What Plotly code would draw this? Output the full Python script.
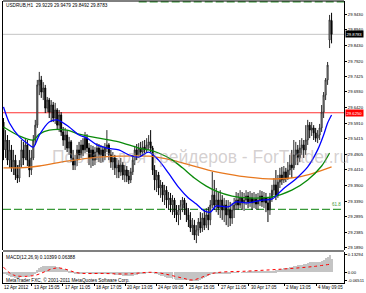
import plotly.graph_objects as go

# ---------------- data ----------------
bar_index = list(range(166))

open_ = [29.595, 29.505, 29.537, 29.472, 29.505, 29.447, 29.472, 29.424, 29.414, 29.456,
         29.505, 29.479, 29.521, 29.472, 29.440, 29.479, 29.537, 29.585, 29.715, 29.731,
         29.692, 29.705, 29.640, 29.666, 29.627, 29.650, 29.608, 29.634, 29.585, 29.618,
         29.563, 29.537, 29.553, 29.511, 29.531, 29.479, 29.456, 29.472, 29.505, 29.489,
         29.521, 29.505, 29.543, 29.511, 29.479, 29.505, 29.472, 29.498, 29.511, 29.489,
         29.505, 29.485, 29.511, 29.521, 29.489, 29.466, 29.479, 29.447, 29.456, 29.434,
         29.456, 29.424, 29.440, 29.421, 29.408, 29.434, 29.472, 29.505, 29.489, 29.511,
         29.498, 29.514, 29.505, 29.521, 29.531, 29.511, 29.440, 29.408, 29.424, 29.382,
         29.392, 29.359, 29.375, 29.343, 29.350, 29.327, 29.343, 29.304, 29.295, 29.311,
         29.327, 29.343, 29.317, 29.295, 29.279, 29.253, 29.262, 29.230, 29.246, 29.272,
         29.253, 29.285, 29.262, 29.295, 29.279, 29.327, 29.359, 29.327, 29.343, 29.317,
         29.343, 29.311, 29.327, 29.295, 29.311, 29.285, 29.311, 29.327, 29.343, 29.327,
         29.350, 29.334, 29.343, 29.356, 29.337, 29.350, 29.334, 29.346, 29.330, 29.343,
         29.356, 29.337, 29.350, 29.334, 29.311, 29.350, 29.375, 29.392, 29.359, 29.401,
         29.424, 29.408, 29.434, 29.414, 29.440, 29.456, 29.447, 29.489, 29.505, 29.479,
         29.511, 29.521, 29.505, 29.537, 29.585, 29.569, 29.576, 29.560, 29.543, 29.553,
         29.576, 29.627, 29.682, 29.731, 29.860, 29.9229]

high = [29.608, 29.569, 29.553, 29.537, 29.521, 29.505, 29.489, 29.456, 29.472, 29.537,
        29.531, 29.543, 29.537, 29.505, 29.505, 29.553, 29.602, 29.731, 29.757, 29.744,
        29.724, 29.715, 29.676, 29.673, 29.666, 29.660, 29.657, 29.640, 29.634, 29.627,
        29.579, 29.576, 29.569, 29.547, 29.537, 29.505, 29.489, 29.521, 29.531, 29.537,
        29.543, 29.563, 29.556, 29.527, 29.521, 29.518, 29.514, 29.527, 29.524, 29.521,
        29.518, 29.527, 29.569, 29.527, 29.505, 29.498, 29.489, 29.479, 29.472, 29.479,
        29.466, 29.456, 29.453, 29.440, 29.447, 29.489, 29.518, 29.524, 29.527, 29.531,
        29.534, 29.537, 29.543, 29.553, 29.569, 29.518, 29.456, 29.440, 29.434, 29.408,
        29.401, 29.392, 29.388, 29.369, 29.366, 29.359, 29.350, 29.327, 29.327, 29.343,
        29.353, 29.350, 29.334, 29.317, 29.304, 29.285, 29.279, 29.262, 29.285, 29.304,
        29.301, 29.311, 29.317, 29.321, 29.343, 29.434, 29.408, 29.382, 29.369, 29.375,
        29.359, 29.350, 29.343, 29.343, 29.337, 29.334, 29.350, 29.369, 29.366, 29.375,
        29.369, 29.366, 29.375, 29.369, 29.372, 29.366, 29.369, 29.363, 29.366, 29.375,
        29.372, 29.369, 29.366, 29.350, 29.366, 29.392, 29.414, 29.440, 29.424, 29.447,
        29.450, 29.453, 29.447, 29.466, 29.489, 29.505, 29.537, 29.531, 29.521, 29.537,
        29.543, 29.537, 29.585, 29.602, 29.595, 29.595, 29.585, 29.576, 29.569, 29.589,
        29.650, 29.692, 29.737, 29.789, 29.941, 29.9479]

low = [29.472, 29.479, 29.456, 29.447, 29.434, 29.424, 29.408, 29.398, 29.401, 29.447,
       29.456, 29.472, 29.453, 29.417, 29.424, 29.472, 29.521, 29.576, 29.682, 29.673,
       29.666, 29.624, 29.627, 29.608, 29.595, 29.595, 29.589, 29.569, 29.563, 29.550,
       29.518, 29.505, 29.498, 29.489, 29.466, 29.440, 29.440, 29.453, 29.472, 29.479,
       29.485, 29.495, 29.498, 29.456, 29.447, 29.453, 29.456, 29.472, 29.466, 29.463,
       29.466, 29.472, 29.498, 29.472, 29.447, 29.440, 29.424, 29.414, 29.414, 29.421,
       29.408, 29.401, 29.401, 29.395, 29.398, 29.424, 29.456, 29.472, 29.479, 29.482,
       29.485, 29.489, 29.495, 29.505, 29.498, 29.424, 29.375, 29.369, 29.359, 29.350,
       29.337, 29.327, 29.317, 29.311, 29.304, 29.295, 29.285, 29.272, 29.262, 29.279,
       29.304, 29.295, 29.272, 29.256, 29.240, 29.230, 29.214, 29.204, 29.227, 29.237,
       29.240, 29.246, 29.253, 29.246, 29.262, 29.317, 29.311, 29.304, 29.295, 29.285,
       29.279, 29.272, 29.262, 29.256, 29.259, 29.266, 29.285, 29.311, 29.311, 29.317,
       29.311, 29.308, 29.327, 29.317, 29.321, 29.311, 29.317, 29.314, 29.311, 29.324,
       29.321, 29.317, 29.304, 29.272, 29.295, 29.337, 29.359, 29.343, 29.350, 29.382,
       29.392, 29.398, 29.401, 29.408, 29.424, 29.414, 29.440, 29.456, 29.456, 29.466,
       29.489, 29.479, 29.489, 29.521, 29.543, 29.550, 29.537, 29.531, 29.527, 29.537,
       29.563, 29.608, 29.666, 29.715, 29.834, 29.8492]

close = [29.505, 29.537, 29.472, 29.505, 29.447, 29.472, 29.424, 29.414, 29.456, 29.505,
         29.479, 29.521, 29.472, 29.440, 29.479, 29.537, 29.585, 29.715, 29.731, 29.692,
         29.705, 29.640, 29.666, 29.627, 29.650, 29.608, 29.634, 29.585, 29.618, 29.563,
         29.537, 29.553, 29.511, 29.531, 29.479, 29.456, 29.472, 29.505, 29.489, 29.521,
         29.505, 29.543, 29.511, 29.479, 29.505, 29.472, 29.498, 29.511, 29.489, 29.505,
         29.485, 29.511, 29.521, 29.489, 29.466, 29.479, 29.447, 29.456, 29.434, 29.456,
         29.424, 29.440, 29.421, 29.408, 29.434, 29.472, 29.505, 29.489, 29.511, 29.498,
         29.514, 29.505, 29.521, 29.531, 29.511, 29.440, 29.408, 29.424, 29.382, 29.392,
         29.359, 29.375, 29.343, 29.350, 29.327, 29.343, 29.304, 29.295, 29.311, 29.327,
         29.343, 29.317, 29.295, 29.279, 29.253, 29.262, 29.230, 29.246, 29.272, 29.253,
         29.285, 29.262, 29.295, 29.279, 29.327, 29.359, 29.327, 29.343, 29.317, 29.343,
         29.311, 29.327, 29.295, 29.311, 29.285, 29.311, 29.327, 29.343, 29.327, 29.350,
         29.334, 29.343, 29.356, 29.337, 29.350, 29.334, 29.346, 29.330, 29.343, 29.356,
         29.337, 29.350, 29.334, 29.311, 29.350, 29.375, 29.392, 29.359, 29.401, 29.424,
         29.408, 29.434, 29.414, 29.440, 29.456, 29.447, 29.489, 29.505, 29.479, 29.511,
         29.521, 29.505, 29.537, 29.585, 29.569, 29.576, 29.560, 29.543, 29.553, 29.576,
         29.627, 29.682, 29.731, 29.779, 29.925, 29.8783]

# moving averages (read at selected bars)
blue_idx = [0, 3, 8, 13, 15, 18, 23, 27, 33, 38, 42, 47, 52, 58, 63, 68, 73, 78, 83, 88,
            93, 97, 101, 104, 107, 113, 117, 123, 130, 135, 140, 148, 153, 158, 161, 163, 165]
blue_val = [29.644, 29.592, 29.547, 29.521, 29.514, 29.553, 29.595, 29.602, 29.579, 29.553,
            29.543, 29.521, 29.511, 29.505, 29.489, 29.482, 29.498, 29.472, 29.430, 29.385,
            29.350, 29.330, 29.308, 29.304, 29.324, 29.321, 29.337, 29.334, 29.343, 29.346,
            29.375, 29.417, 29.450, 29.505, 29.553, 29.592, 29.618]

green_idx = [0, 8, 15, 18, 23, 32, 38, 48, 58, 68, 73, 78, 85, 90, 96, 102, 107, 115, 123,
             135, 145, 153, 160, 164]
green_val = [29.579, 29.550, 29.537, 29.556, 29.569, 29.569, 29.556, 29.543, 29.531, 29.511,
             29.505, 29.495, 29.472, 29.447, 29.414, 29.388, 29.372, 29.356, 29.350, 29.353,
             29.375, 29.408, 29.453, 29.495]

orange_idx = [0, 8, 18, 32, 48, 58, 73, 82, 90, 103, 113, 123, 136, 148, 156, 165]
orange_val = [29.447, 29.447, 29.453, 29.469, 29.482, 29.485, 29.485, 29.476, 29.463, 29.440,
              29.427, 29.417, 29.411, 29.417, 29.430, 29.450]

# MACD histogram and signal
macd_hist = [-0.010, -0.015, -0.022, -0.026, -0.032, -0.035, -0.040, -0.044, -0.043,
             -0.038, -0.036, -0.030, -0.030, -0.033, -0.030,
             -0.022, -0.010, 0.015,
             0.030, 0.038, 0.045, 0.046,
             0.050, 0.048, 0.049, 0.046, 0.046, 0.042, 0.042,
             0.035, 0.028, 0.024, 0.016, 0.012, 0.004, -0.004, -0.008,
             -0.008, -0.008, -0.006, -0.006, -0.002, -0.002,
             -0.005, -0.006, -0.008, -0.008, -0.007, -0.008, -0.008, -0.009, -0.008,
             -0.006,
             -0.008, -0.011, -0.013, -0.017, -0.019, -0.022, -0.022, -0.025, -0.026, -0.028, -0.030, -0.029,
             -0.025, -0.019, -0.016, -0.012, -0.010, -0.007, -0.005, -0.002, 0.001, 0.001,
             -0.004, -0.010, -0.014, -0.020, -0.025, -0.031, -0.035, -0.040, -0.043,
             -0.046, -0.048, -0.052, -0.055, -0.056, -0.056, -0.055, -0.055, -0.057, -0.059,
             -0.062, -0.064, -0.067, -0.067, -0.064,
             -0.055, -0.048, -0.040, -0.033, -0.027, -0.020,
             -0.012, -0.010,
             -0.008, -0.007, -0.006, -0.006, -0.005, -0.005, -0.006, -0.005, -0.004, -0.003,
             -0.002, -0.001, 0.000, 0.001, 0.002, 0.003, 0.004, 0.004, 0.005, 0.005, 0.006,
             0.006, 0.007, 0.007, 0.007, 0.006, 0.004,
             0.006, 0.010, 0.014, 0.015, 0.019, 0.024, 0.026, 0.030, 0.031, 0.035, 0.040, 0.042, 0.048,
             0.052, 0.053, 0.057, 0.060, 0.061, 0.066, 0.073, 0.076, 0.078, 0.078, 0.077, 0.078, 0.080,
             0.087, 0.096, 0.107, 0.118, 0.133, 0.104]

sig_idx = [0, 5, 15, 27, 38, 50, 62, 76, 90, 95, 106, 123, 140, 156, 165]
sig_val = [0.040, -0.020, -0.025, 0.034, -0.005, -0.008, -0.012, 0.000, -0.043, -0.058,
           -0.005, 0.010, 0.025, 0.045, 0.064]

# levels
bid_price = 29.8783
red_level = 29.6250
fib_618 = 29.313
fib_top = 29.983

# tick labels
price_ticks = [29.9430, 29.8940, 29.8430, 29.7920, 29.7425, 29.6930, 29.6420, 29.5910,
               29.5415, 29.4905, 29.4410, 29.3900, 29.3390, 29.2895, 29.2385, 29.1890]
price_tick_text = ["29.9430", "29.8940", "29.8430", "29.7920", "29.7425", "29.6930", "29.6420",
                   "29.5910", "29.5415", "29.4905", "29.4410", "29.3900", "29.3390", "29.2895",
                   "29.2385", "29.1890"]
macd_ticks = [0.13294, 0.0, -0.06511]
macd_tick_text = ["0.13294", "0.00", "-0.06511"]
time_tick_bar = [-0.75, 14.25, 29.75, 45.75, 61.25, 76.75, 92.25, 108.25, 123.25, 141.25, 157.25]
time_labels = ["12 Apr 2012", "13 Apr 15:05", "17 Apr 11:05", "18 Apr 17:05", "20 Apr 13:05",
               "24 Apr 09:05", "25 Apr 15:05", "27 Apr 11:05", "30 Apr 17:05", "2 May 13:05",
               "4 May 09:05"]

# ---------------- figure ----------------
FONT = "Liberation Sans, Arial, sans-serif"
W, H = 366, 293
ML, MR, MT, MB = 3, 20, 1, 10
PH = H - MT - MB  # 282
PW = W - ML - MR  # 343
X0, X1 = -0.25, 171.25


def py(px):
    """pixel row -> paper y"""
    return (H - MB - px) / PH


def bar_to_paper(b):
    return (b - X0) / (X1 - X0)


fig = go.Figure()

fig.add_trace(go.Candlestick(
    x=bar_index, open=open_, high=high, low=low, close=close,
    increasing=dict(line=dict(color="#2a2a2a", width=1), fillcolor="#ffffff"),
    decreasing=dict(line=dict(color="#000000", width=1), fillcolor="#000000"),
    whiskerwidth=0, hoverinfo="skip", yaxis="y"))

for idx, val, col in [(orange_idx, orange_val, "#e8781e"),
                      (green_idx, green_val, "#0a8a0a"),
                      (blue_idx, blue_val, "#0000ff")]:
    fig.add_trace(go.Scatter(x=idx, y=val, mode="lines", hoverinfo="skip",
                             line=dict(color=col, width=1.3, shape="spline", smoothing=0.8),
                             yaxis="y"))

fig.add_trace(go.Bar(x=bar_index, y=macd_hist, width=0.5, hoverinfo="skip",
                     marker=dict(color="#c4c4c4", line=dict(width=0)), yaxis="y2"))
fig.add_trace(go.Scatter(x=sig_idx, y=sig_val, mode="lines", hoverinfo="skip",
                         line=dict(color="#ff0000", width=1, dash="dot", shape="spline"),
                         yaxis="y2"))

shapes = [
    dict(type="line", xref="paper", x0=0, x1=1, yref="y", y0=bid_price, y1=bid_price,
         line=dict(color="#c4c4c4", width=1), layer="below"),
    dict(type="line", xref="paper", x0=0, x1=1, yref="y", y0=red_level, y1=red_level,
         line=dict(color="#ff3030", width=1), layer="below"),
    dict(type="line", xref="paper", x0=0, x1=1, yref="y", y0=fib_618, y1=fib_618,
         line=dict(color="#3a9a3a", width=1.2, dash="8px,3px"), layer="below"),
    dict(type="line", xref="x", x0=68, x1=X1, yref="y", y0=fib_top, y1=fib_top,
         line=dict(color="#3a9a3a", width=1.2, dash="8px,3px"), layer="below"),
    dict(type="rect", xref="paper", x0=0, x1=1, yref="paper", y0=py(252), y1=py(250),
         fillcolor="#808080", line=dict(width=0)),
    dict(type="line", xref="paper", x0=0, x1=1, yref="paper", y0=1, y1=1,
         line=dict(color="#000000", width=1)),
]

ann = []
ann.append(dict(text="Портал для трейдеров - ForTrader.ru", xref="paper", yref="paper",
                x=(202 - ML) / PW, y=py(157), xanchor="center", yanchor="middle",
                showarrow=False, font=dict(family=FONT, size=17.5, color="rgba(160,150,150,0.45)")))
ann.append(dict(text="USDRUB,H1  29.9229 29.9479 29.8492 29.8783", xref="paper", yref="paper",
                x=0, xshift=1, y=py(5), xanchor="left", yanchor="middle", showarrow=False,
                font=dict(family=FONT, size=4.7, color="#000000")))
ann.append(dict(text="61.8", xref="paper", yref="y", x=1, xshift=-1, y=fib_618,
                xanchor="right", yanchor="bottom", showarrow=False,
                font=dict(family=FONT, size=4.5, color="#3a9a3a")))
ann.append(dict(text="29.8783", xref="paper", yref="y", x=1, xshift=1, y=bid_price,
                xanchor="left", yanchor="middle", showarrow=False, bgcolor="#000000",
                borderpad=0.5, font=dict(family=FONT, size=4.2, color="#ffffff")))
ann.append(dict(text="29.6250", xref="paper", yref="y", x=1, xshift=1, y=red_level,
                xanchor="left", yanchor="middle", showarrow=False, bgcolor="#ff0000",
                borderpad=0.5, font=dict(family=FONT, size=4.2, color="#ffffff")))
ann.append(dict(text="MACD(12,26,9) 0.10399 0.06388", xref="paper", yref="paper",
                x=0, xshift=1, y=py(257), xanchor="left", yanchor="middle", showarrow=False,
                font=dict(family=FONT, size=4.7, color="#000000")))
ann.append(dict(text="MetaTrader FXC, © 2001-2011 MetaQuotes Software Corp.", xref="paper",
                yref="paper", x=0, xshift=1, y=py(280), xanchor="left", yanchor="middle",
                showarrow=False, font=dict(family=FONT, size=4.7, color="#000000")))
for tb, tl in zip(time_tick_bar, time_labels):
    ann.append(dict(text=tl, xref="paper", yref="paper", x=bar_to_paper(tb), y=py(287.5),
                    xanchor="left", yanchor="middle", showarrow=False,
                    font=dict(family=FONT, size=4.5, color="#000000")))

fig.update_layout(
    width=W, height=H, margin=dict(l=ML, r=MR, t=MT, b=MB, pad=0),
    paper_bgcolor="#ffffff", plot_bgcolor="#ffffff", showlegend=False, bargap=0,
    font=dict(family=FONT, size=5, color="#000000"),
    xaxis=dict(range=[X0, X1], anchor="y2", showgrid=False, zeroline=False,
               showline=True, linecolor="#000000", linewidth=1, ticks="outside", ticklen=2,
               tickcolor="#000000", tickvals=time_tick_bar[1:], showticklabels=False,
               rangeslider=dict(visible=False), fixedrange=True),
    yaxis=dict(domain=[py(250), 1], range=[29.1817, 29.9860], side="right", anchor="x",
               showgrid=False, zeroline=False, showline=True, linecolor="#000000",
               linewidth=1, mirror=True, ticks="outside", ticklen=2, tickcolor="#000000",
               tickvals=price_ticks, ticktext=price_tick_text,
               tickfont=dict(family=FONT, size=4.2, color="#000000"), fixedrange=True),
    yaxis2=dict(domain=[0, py(252)], range=[-0.0808, 0.1554], side="right", anchor="x",
                showgrid=False, zeroline=False, showline=True, linecolor="#000000",
                linewidth=1, mirror=True, ticks="outside", ticklen=2, tickcolor="#000000",
                tickvals=macd_ticks, ticktext=macd_tick_text,
                tickfont=dict(family=FONT, size=4.2, color="#000000"), fixedrange=True),
    shapes=shapes, annotations=ann,
)

fig.write_html("out.html", config={"displayModeBar": False})
